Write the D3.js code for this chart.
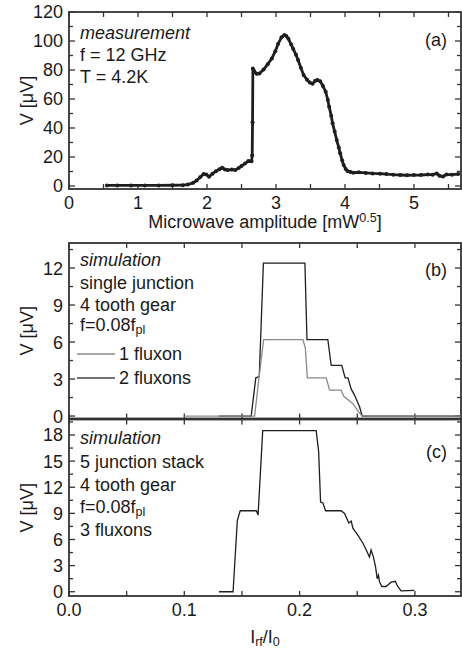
<!DOCTYPE html>
<meta charset="utf-8">
<html>
<head>
<script src="https://cdnjs.cloudflare.com/ajax/libs/d3/7.8.5/d3.min.js"></script>
<style>
  body { margin: 0; background: #fff; }
  text { font-family: "Liberation Sans", Arial, Helvetica, sans-serif; fill: #1a1a1a; }
</style>
</head>
<body>
<div id="chart"></div>
<script>
// ---- data ----
// (a) measurement: microwave amplitude [mW^0.5] vs V [uV]
var measAmp = [0.55,0.7,0.9,1.1,1.3,1.5,1.65,1.72,1.8,1.85,1.9,1.95,1.99,2.03,2.08,2.13,2.18,2.22,2.26,2.3,
  2.36,2.41,2.46,2.5,2.55,2.6,2.645,2.655,2.66,2.665,2.68,2.72,2.76,2.82,2.88,2.94,2.99,3.03,3.08,3.12,
  3.15,3.18,3.22,3.25,3.29,3.32,3.36,3.4,3.45,3.49,3.53,3.57,3.6,3.64,3.68,3.72,3.75,3.77,3.8,3.82,
  3.85,3.88,3.91,3.93,3.96,3.98,4.01,4.04,4.08,4.12,4.2,4.3,4.4,4.51,4.6,4.7,4.8,4.9,5.0,5.1,
  5.2,5.27,5.33,5.37,5.42,5.47,5.55,5.64];
var measV = [0.4,0.4,0.4,0.4,0.4,0.5,0.6,1.0,2.2,3.8,6.0,8.2,8.0,6.4,8.5,10.2,11.5,12.6,11.4,11.0,
  11.3,11.0,12.4,13.8,15.5,17.2,17.0,21,44,81,79.5,77.4,77.5,80.3,84,88,93,98,102.5,104.1,
  103.4,101.5,97.5,94.5,90.5,86.9,81.5,76.6,73.2,71.3,70.6,72.5,73.1,72.2,69.0,65,59.5,54.7,48.5,43.2,
  37.5,31.7,26.5,22.5,17.5,14.5,11.8,10.2,9.6,9.2,9.4,9.0,8.7,8.5,8.2,7.8,7.6,7.4,7.5,7.6,
  7.9,7.8,8.7,7.0,6.5,7.9,7.8,8.2];

// (b) simulation, single junction
var oneFluxonX = [0.10,0.161,0.164,0.1688,0.2029,0.205,0.2067,0.2231,0.226,0.236,0.2383,0.2463,0.251,0.2543,0.34];
var oneFluxonV = [0,0,2.5,6.2,6.2,5.5,3.1,3.1,2.1,2.1,1.6,1.0,0.35,0,0];
var twoFluxonX = [0.13,0.158,0.162,0.165,0.1686,0.2046,0.2064,0.2245,0.2274,0.2366,0.2395,0.2419,0.2447,0.2476,0.252,0.2543,0.34];
var twoFluxonV = [0,0,3.1,3.2,12.4,12.4,6.2,6.2,4.1,4.1,3.1,3.1,2.2,1.7,0.75,0,0];

// (c) simulation, 5 junction stack
var stackX = [0.130,0.1423,0.146,0.1485,0.1625,0.164,0.168,0.2144,0.2165,0.2182,0.2202,0.2225,0.236,0.239,0.2427,
  0.2448,0.2462,0.2505,0.2548,0.2578,0.2606,0.262,0.264,0.2658,0.2673,0.2684,0.2693,0.2713,0.275,0.2794,
  0.283,0.2851,0.288,0.2996];
var stackV = [0,0,8.2,9.3,9.3,8.8,18.5,18.5,16.1,10.3,10.2,9.3,9.3,9.0,7.9,
  8.1,7.3,6.5,5.6,4.8,4.0,4.8,4.0,2.9,1.5,1.9,1.15,0.6,0.6,1.1,
  1.2,0.6,0.1,0.15];

var ticksA = [0,20,40,60,80,100,120];
var ticksB = [0,3,6,9,12];
var ticksC = [0,3,6,9,12,15,18];
var ticksAmp = [0,1,2,3,4,5];
var ticksIrf = [0.0,0.1,0.2,0.3];

// ---- layout ----
var W = 462, H = 653;
var left = 69, right = 461;
var fs = 18;
var axisColor = "#333";

var svg = d3.select("#chart").append("svg")
  .attr("width", W).attr("height", H);

function zip(xs, ys) { return xs.map(function(d, i){ return [d, ys[i]]; }); }

function drawPanel(p) {
  var x = d3.scaleLinear().domain(p.xDomain).range([left, right]);
  var y = d3.scaleLinear().domain(p.yDomain).range([p.bottom, p.top]);
  var g = svg.append("g");

  // inward ticks on all four sides
  var xTicks = d3.range(p.xDomain[0], p.xDomain[1] + 1e-9, p.xMinor);
  var yTicks = d3.range(Math.ceil(p.yDomain[0] / p.yMinor) * p.yMinor, p.yDomain[1] + 1e-9, p.yMinor);
  function isMajor(v, list) { return list.some(function(t){ return Math.abs(t - v) < 1e-6; }); }

  xTicks.forEach(function(v) {
    var len = 5;
    g.append("line").attr("x1", x(v)).attr("x2", x(v)).attr("y1", p.bottom).attr("y2", p.bottom - len)
      .attr("stroke", axisColor).attr("stroke-width", 1.3);
    g.append("line").attr("x1", x(v)).attr("x2", x(v)).attr("y1", p.top).attr("y2", p.top + len)
      .attr("stroke", axisColor).attr("stroke-width", 1.3);
  });
  yTicks.forEach(function(v) {
    var len = isMajor(v, p.yTicks) ? 6 : 4;
    g.append("line").attr("x1", left).attr("x2", left + len).attr("y1", y(v)).attr("y2", y(v))
      .attr("stroke", axisColor).attr("stroke-width", 1.3);
    g.append("line").attr("x1", right).attr("x2", right - len).attr("y1", y(v)).attr("y2", y(v))
      .attr("stroke", axisColor).attr("stroke-width", 1.3);
  });

  // frame
  g.append("rect").attr("x", left).attr("y", p.top)
    .attr("width", right - left).attr("height", p.bottom - p.top)
    .attr("fill", "none").attr("stroke", axisColor).attr("stroke-width", 1.8);

  // y tick labels
  g.selectAll(".ylab").data(p.yTicks).enter().append("text")
    .attr("x", left - 6).attr("y", function(d){ return y(d); })
    .attr("dy", "0.36em").attr("text-anchor", "end")
    .style("font-size", fs + "px")
    .text(function(d){ return d; });

  // x tick labels
  if (p.xTicks) {
    g.selectAll(".xlab").data(p.xTicks).enter().append("text")
      .attr("x", function(d){ return x(d); }).attr("y", p.bottom + 14)
      .attr("dy", "0.36em").attr("text-anchor", "middle")
      .style("font-size", fs + "px")
      .text(function(d){ return p.xFormat(d); });
  }

  // y axis title
  g.append("text")
    .attr("transform", "translate(" + 27 + "," + ((p.top + p.bottom) / 2) + ") rotate(-90)")
    .attr("text-anchor", "middle").attr("dy", "0.36em").style("font-size", fs + "px")
    .text("V [\u03BCV]");

  // panel tag
  g.append("text").attr("x", 447).attr("y", p.tagY).attr("dy", "0.36em")
    .attr("text-anchor", "end").style("font-size", fs + "px").text(p.tag);

  return { g: g, x: x, y: y };
}

function addLines(g, lines, y0) {
  lines.forEach(function(l, i) {
    var t = g.append("text").attr("x", l.x || 80).attr("y", y0 + i * l.step).attr("dy", "0.36em")
      .style("font-size", fs + "px");
    if (l.italic) t.style("font-style", "italic");
    l.parts.forEach(function(part) {
      var ts = t.append("tspan").text(part.t);
      if (part.sub) ts.attr("baseline-shift", "-25%").style("font-size", (fs * 0.7) + "px");
      if (part.sup) ts.attr("baseline-shift", "45%").style("font-size", (fs * 0.7) + "px");
    });
  });
}

// ---- panel (a) ----
var A = drawPanel({
  top: 12, bottom: 189,
  xDomain: [0, (right - left) / 69], yDomain: [-2.07, 120],
  xMinor: 0.5, yMinor: 10, yTicks: ticksA, xTicks: ticksAmp,
  xFormat: function(d){ return d; }, tag: "(a)", tagY: 40
});
var lineA = d3.line().x(function(d){ return A.x(d[0]); }).y(function(d){ return A.y(d[1]); });
var measData = zip(measAmp, measV);
A.g.append("path").datum(measData).attr("d", lineA)
  .attr("fill", "none").attr("stroke", "#1e1e1e").attr("stroke-width", 2.8).attr("stroke-linejoin", "round");
A.g.selectAll(".dot").data(measData).enter().append("circle")
  .attr("cx", function(d){ return A.x(d[0]); }).attr("cy", function(d){ return A.y(d[1]); })
  .attr("r", 2).attr("fill", "#1e1e1e");

var s = 22;
addLines(A.g, [
  { parts: [{t: "measurement"}], italic: true, step: s },
  { parts: [{t: "f = 12 GHz"}], step: s },
  { parts: [{t: "T = 4.2K"}], step: s }
], 33);

var xt = svg.append("text").attr("x", 265).attr("y", 222).attr("dy", "0.36em")
  .attr("text-anchor", "middle").style("font-size", fs + "px");
xt.append("tspan").text("Microwave amplitude [mW");
xt.append("tspan").text("0.5").attr("baseline-shift", "45%").style("font-size", (fs * 0.7) + "px");
xt.append("tspan").text("]");

// ---- panel (b) ----
var B = drawPanel({
  top: 243, bottom: 418.5,
  xDomain: [0, (right - left) / 1153], yDomain: [-0.2, 14.03],
  xMinor: 0.05, yMinor: 1.5, yTicks: ticksB, xTicks: null,
  tag: "(b)", tagY: 270
});
var lineB = d3.line().x(function(d){ return B.x(d[0]); }).y(function(d){ return B.y(d[1]); });
B.g.append("path").datum(zip(twoFluxonX, twoFluxonV)).attr("d", lineB)
  .attr("fill", "none").attr("stroke", "#1e1e1e").attr("stroke-width", 1.3);
B.g.append("path").datum(zip(oneFluxonX, oneFluxonV)).attr("d", lineB)
  .attr("fill", "none").attr("stroke", "#8a8a8a").attr("stroke-width", 1.3);

addLines(B.g, [
  { parts: [{t: "simulation"}], italic: true, step: 0 },
], 260);
addLines(B.g, [
  { parts: [{t: "single junction"}], step: 22 },
  { parts: [{t: "4 tooth gear"}], step: 22 },
], 283);
addLines(B.g, [
  { parts: [{t: "f=0.08f"}, {t: "pl", sub: true}], step: 0 }
], 325);
addLines(B.g, [
  { x: 119, parts: [{t: "1 fluxon"}], step: 24 },
  { x: 119, parts: [{t: "2 fluxons"}], step: 24 }
], 354);
B.g.append("line").attr("x1", 77).attr("x2", 115).attr("y1", 354).attr("y2", 354)
  .attr("stroke", "#8a8a8a").attr("stroke-width", 1.3);
B.g.append("line").attr("x1", 77).attr("x2", 115).attr("y1", 378).attr("y2", 378)
  .attr("stroke", "#444").attr("stroke-width", 1.6);

// ---- panel (c) ----
var C = drawPanel({
  top: 419.5, bottom: 596,
  xDomain: [0, (right - left) / 1153], yDomain: [-0.49, 19.78],
  xMinor: 0.05, yMinor: 1.5, yTicks: ticksC, xTicks: ticksIrf,
  xFormat: d3.format(".1f"), tag: "(c)", tagY: 452
});
var lineC = d3.line().x(function(d){ return C.x(d[0]); }).y(function(d){ return C.y(d[1]); });
C.g.append("path").datum(zip(stackX, stackV)).attr("d", lineC)
  .attr("fill", "none").attr("stroke", "#1e1e1e").attr("stroke-width", 1.3);

addLines(C.g, [
  { parts: [{t: "simulation"}], italic: true, step: 0 }
], 438);
addLines(C.g, [
  { parts: [{t: "5 junction stack"}], step: 23 },
  { parts: [{t: "4 tooth gear"}], step: 23 }
], 462);
addLines(C.g, [
  { parts: [{t: "f=0.08f"}, {t: "pl", sub: true}], step: 0 }
], 507);
addLines(C.g, [
  { parts: [{t: "3 fluxons"}], step: 0 }
], 530);

var xc = svg.append("text").attr("x", 265).attr("y", 637).attr("dy", "0.36em")
  .attr("text-anchor", "middle").style("font-size", fs + "px");
xc.append("tspan").text("I");
xc.append("tspan").text("rf").attr("baseline-shift", "-25%").style("font-size", (fs * 0.7) + "px");
xc.append("tspan").text("/I");
xc.append("tspan").text("0").attr("baseline-shift", "-25%").style("font-size", (fs * 0.7) + "px");
</script>
</body>
</html>
